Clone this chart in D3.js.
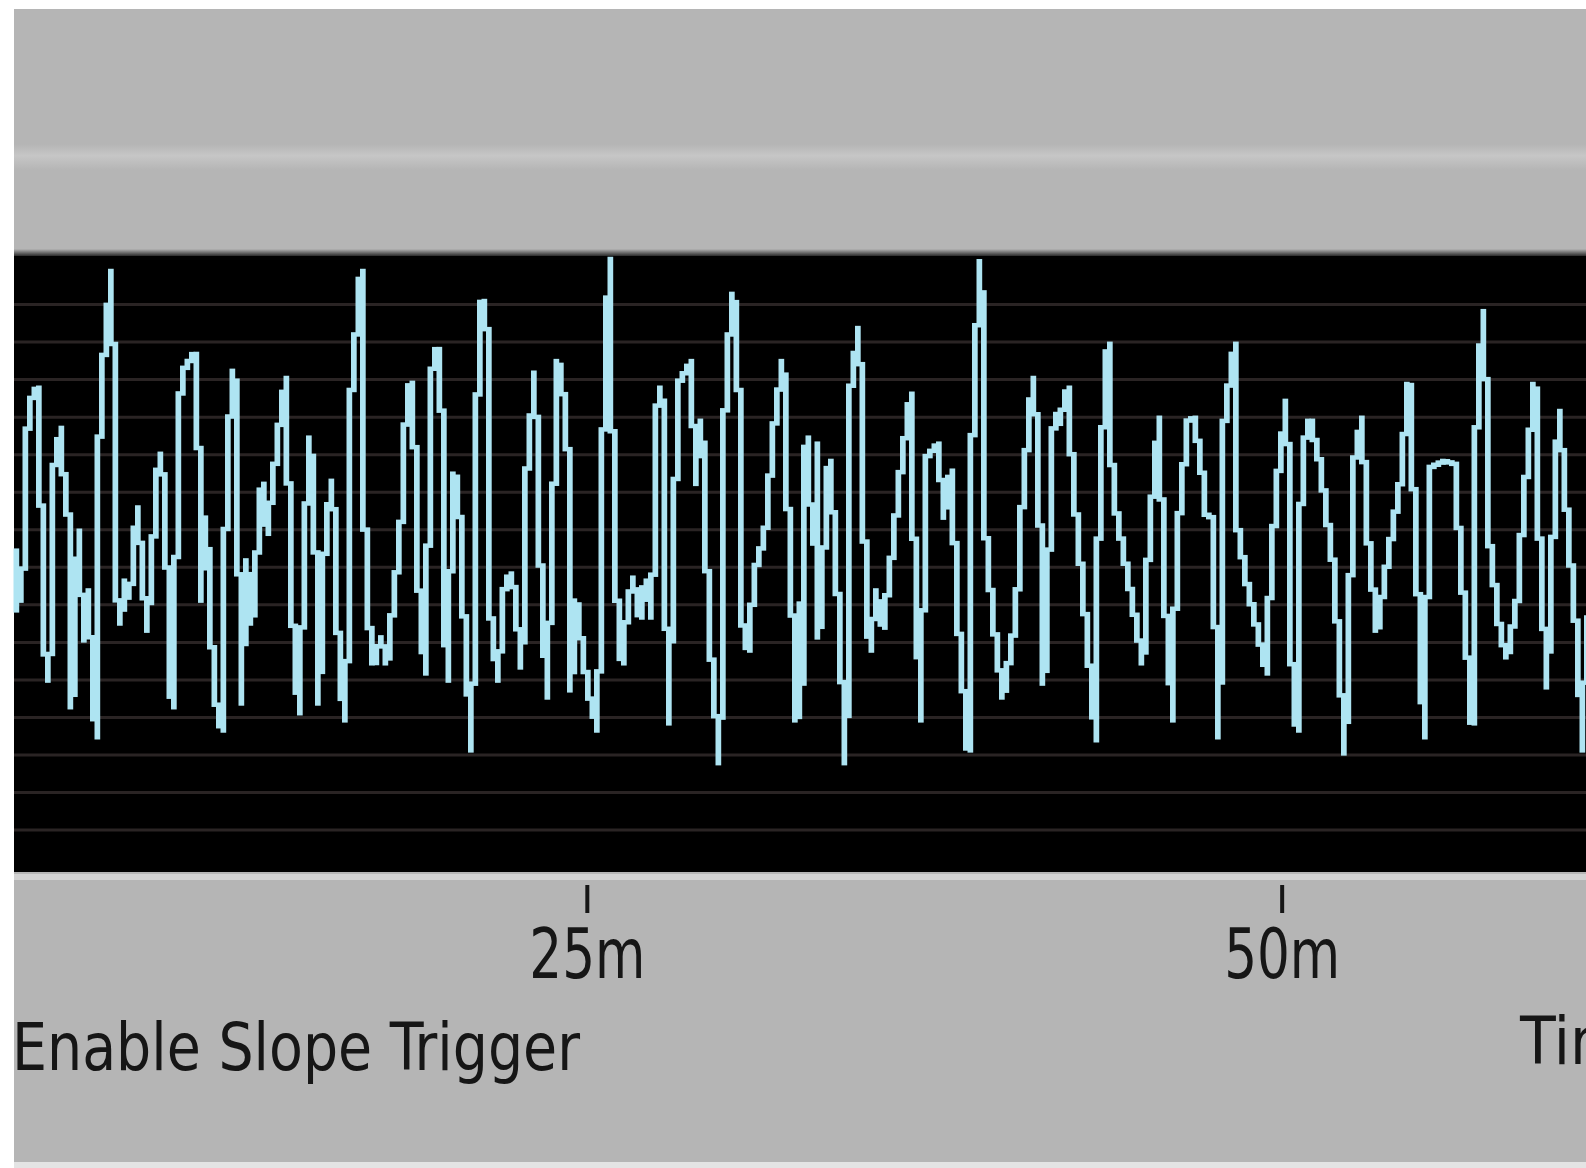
<!DOCTYPE html>
<html>
<head>
<meta charset="utf-8">
<script src="https://cdn.jsdelivr.net/npm/d3@7"></script>
<style>
  html, body { margin: 0; padding: 0; background: #fff; overflow: hidden; }
  svg { display: block; }
</style>
</head>
<body>
<div id="chart"></div>
<script>
'use strict';

// trace vertices, time in ms
const times = [
  4.39, 4.50, 4.61, 4.75, 4.79, 4.93, 5.22, 5.36, 5.47, 5.65, 5.76, 5.83, 6.08, 6.19, 6.44, 6.48,
  6.69, 6.91, 7.05, 7.34, 7.48, 7.74, 7.92, 8.06, 8.24, 8.35, 8.56, 8.82, 9.18, 9.61, 9.79, 10.07,
  10.40, 10.87, 11.05, 11.12, 11.30, 11.59, 11.87, 12.05, 12.31, 12.41, 12.56, 12.77, 12.95, 13.31,
  13.49, 14.00, 14.18, 14.36, 14.64, 15.00, 15.18, 15.36, 15.54, 15.80, 15.98, 16.08, 16.34, 16.51,
  16.88, 16.98, 17.16, 17.34, 17.59, 17.81, 18.17, 18.35, 18.53, 18.75, 18.89, 19.18, 19.43, 19.61,
  19.79, 19.83, 20.00, 20.18, 20.36, 20.62, 20.87, 21.05, 21.23, 21.44, 21.52, 21.80, 22.06, 22.31,
  22.67, 22.78, 23.14, 23.24, 23.57, 23.78, 23.96, 24.29, 24.43, 24.61, 25.04, 25.40, 25.55, 25.65,
  25.83, 25.94, 26.12, 26.27, 26.45, 26.66, 26.91, 27.09, 27.34, 27.56, 27.74, 27.92, 28.06, 28.28,
  28.78, 28.89, 29.14, 29.25, 29.50, 29.79, 29.86, 29.97, 30.22, 30.44, 30.51, 30.80, 31.05, 31.41,
  31.77, 32.06, 32.24, 32.56, 32.63, 32.78, 32.89, 33.14, 33.32, 33.35, 33.71, 33.89, 34.33, 34.43,
  34.79, 34.94, 35.04, 35.22, 35.40, 35.66, 36.05, 36.23, 36.66, 36.77, 37.02, 37.20, 37.64, 37.85,
  38.10, 38.39, 38.72, 38.90, 39.18, 39.36, 39.61, 39.97, 40.44, 40.69, 41.05, 41.16, 41.34, 41.45,
  41.81, 41.99, 42.31, 42.49, 42.85, 43.32, 43.43, 43.75, 43.93, 44.51, 45.01, 45.23, 45.59, 45.77,
  46.09, 46.20, 46.63, 46.85, 47.13, 47.21, 47.49, 47.75, 47.93, 48.14, 48.32, 48.39, 48.75, 49.47,
  49.58, 49.83, 50.19, 50.30, 50.55, 50.73, 51.02, 51.38, 51.88, 52.28, 52.60, 52.89, 53.07, 53.43,
  53.79, 54.26, 54.58, 54.87, 55.12, 55.33, 55.84, 56.20, 56.42, 56.85, 57.03, 57.28, 57.46, 57.86,
  58.11, 58.47, 58.72, 59.11, 59.29, 59.55, 59.80, 59.98, 60.27, 60.63, 60.84, 60.95
];

// trace vertices, in divisions
const volts = [
  -1.16, 0.43, -0.90, 0.25, 2.64, 4.34, 4.77, 1.68, -2.04, -3.03, -0.82, 2.64, 3.70, 2.21, 0.78, -3.74,
  0.96, -1.96, -0.63, -4.54, 4.34, 6.63, 7.88, -0.63, -1.51, -0.37, -0.82, 1.58, -1.70, 3.01, 2.21, -3.74,
  5.14, 5.67, 2.82, -0.90, 1.31, -3.37, -4.36, 3.09, 5.22, 3.28, -3.64, 0.17, -1.51, 2.21,
  0.88, 4.15, 5.03, -0.82, -3.90, 3.44, 2.29, -3.64, 0.17, 2.29, 0.70, -2.95, -4.09, 4.50,
  7.88, 1.68, -1.51, -2.57, -1.88, -2.57, -0.02, 1.50, 4.77, 4.90, 0.09, -2.84, 5.22, 5.80,
  3.97, -0.63, -3.03, 2.48, 2.29, -1.96, -4.89, 4.34, 7.08, 6.10, -1.16, -3.03, -0.37, -0.18,
  -2.68, 2.03, 5.17, 1.42, -3.48, 1.31, 5.48, 3.89, -3.29, -0.90, -3.29, -4.36, 1.84, 5.48,
  8.20, 2.82, -1.78, -2.57, -1.16, -0.29, -1.35, -0.37, -1.35, 4.77, 4.34, -4.17, -1.35, 4.87,
  5.48, 2.21, 3.89, 0.96, -2.68, -5.23, -0.90, 4.15, 7.27, 6.63, -1.16, -2.23, -0.10, 0.88,
  3.97, 5.48, 1.50, -4.09, -0.98, -3.11, 3.44, 0.62, 3.28, -1.88, 2.82, 1.15, -5.23, 4.42,
  6.36, 2.64, -1.24, -2.23, -0.63, -1.62, 0.78, 2.21, 4.61, 0.78, -4.09, 2.90, 3.28, 1.31,
  2.56, -1.78, -4.89, 4.77, 8.14, 0.78, -1.35, -3.48, -1.35, 2.03, 5.03, 3.89, 0.43, -3.11,
  4.07, 3.81, 4.77, 2.29, -0.63, -4.62, 1.95, 5.94, 1.95, -0.45, -2.57, 0.78, 3.97, -0.55,
  -4.09, 0.43, 3.89, 3.97, 2.56, 1.42, 1.31, -4.54, 3.81, 5.03, 5.94, 1.15, -0.45, -2.84,
  -0.45, 2.21, 4.42, -1.88, -4.36, 3.09, 3.89, 2.75, -0.10, -4.97, 2.75, 3.97, 1.04, -1.70,
  0.09, 2.21, 4.87, -0.10, -4.54, 2.64, 2.82, 2.75, 0.43, -4.17, 4.69, 6.81, 0.78, -1.78,
  -2.41, -0.90, 1.84, 4.87, 0.43, -3.21, 1.50, 4.15, 1.31, -1.96, -4.89, -1.35
];

const timeTicks = [25, 50];
const gridValues = [-7, -6, -5, -4, -3, -2, -1, 0, 1, 2, 3, 4, 5, 6, 7];
const timeDomain = [4.39, 60.95];
const voltDomain = [-8.13, 8.28];
const leftLabel = 'Enable Slope Trigger';
const rightLabel = 'Time';

const W = 1586, H = 1168;
const plot = {left: 14, right: 1586, top: 256, bottom: 872};
const dot = 4.5; // size of one screen pixel of the old scope window

const svg = d3.select('#chart')
  .append('svg')
    .attr('width', W)
    .attr('height', H);

const defs = svg.append('defs');

const stripe = defs.append('linearGradient')
    .attr('id', 'stripe')
    .attr('x1', 0).attr('y1', 0).attr('x2', 0).attr('y2', 1);
stripe.append('stop').attr('offset', '0%').attr('stop-color', '#b5b5b5');
stripe.append('stop').attr('offset', '45%').attr('stop-color', '#c6c6c6');
stripe.append('stop').attr('offset', '100%').attr('stop-color', '#b5b5b5');

const edge = defs.append('linearGradient')
    .attr('id', 'edge')
    .attr('x1', 0).attr('y1', 0).attr('x2', 0).attr('y2', 1);
edge.append('stop').attr('offset', '0%').attr('stop-color', '#b4b4b4');
edge.append('stop').attr('offset', '100%').attr('stop-color', '#2a2a2a');

// window panel
svg.append('rect')
    .attr('x', 14).attr('y', 9)
    .attr('width', W - 14).attr('height', 1153)
    .attr('fill', '#b5b5b5');

svg.append('rect')
    .attr('x', 14).attr('y', 144)
    .attr('width', W - 14).attr('height', 26)
    .attr('fill', 'url(#stripe)');

svg.append('rect')
    .attr('x', 14).attr('y', 1162)
    .attr('width', W - 14).attr('height', 6)
    .attr('fill', '#e4e4e4');

const x = d3.scaleLinear().domain(timeDomain).range([plot.left, plot.right]);
const y = d3.scaleLinear().domain(voltDomain).range([plot.bottom, plot.top]);

// scope screen
svg.append('rect')
    .attr('x', plot.left).attr('y', plot.top - 7)
    .attr('width', plot.right - plot.left).attr('height', 7)
    .attr('fill', 'url(#edge)');

svg.append('rect')
    .attr('x', plot.left).attr('y', plot.top)
    .attr('width', plot.right - plot.left).attr('height', plot.bottom - plot.top)
    .attr('fill', '#000');

svg.append('rect')
    .attr('x', plot.left).attr('y', plot.bottom + 2)
    .attr('width', plot.right - plot.left).attr('height', 6)
    .attr('fill', '#d2d2d2');

const grid = svg.append('g')
    .attr('class', 'grid')
    .attr('transform', `translate(${plot.left}, 0)`)
    .call(d3.axisLeft(y).tickValues(gridValues).tickSize(-(plot.right - plot.left)).tickFormat(''));

grid.select('.domain').remove();
grid.selectAll('.tick line')
    .attr('stroke', '#2a2424')
    .attr('stroke-width', 3);

// the trace is drawn the way the scope's screen shows it:
// each screen column gets one bar spanning the trace inside that column
const pts = times.map((t, i) => [x(t), y(volts[i])]);
const cols = [];
for (let c0 = plot.left; c0 < plot.right; c0 += dot) {
  const c1 = c0 + dot;
  let lo = Infinity, hi = -Infinity;
  for (let i = 0; i < pts.length - 1; i++) {
    const [ax, ay] = pts[i], [bx, by] = pts[i + 1];
    if (bx < c0 || ax > c1) continue;
    const s = Math.max(ax, c0), e = Math.min(bx, c1);
    const f = d3.interpolateNumber(ay, by);
    const ys = [f((s - ax) / (bx - ax)), f((e - ax) / (bx - ax))];
    lo = Math.min(lo, ...ys);
    hi = Math.max(hi, ...ys);
  }
  if (lo < Infinity) cols.push({x: c0, lo: lo, hi: hi});
}

svg.append('g')
    .attr('class', 'trace')
  .selectAll('rect')
  .data(cols)
  .join('rect')
    .attr('x', d => d.x - 0.5)
    .attr('y', d => d.lo - dot / 2)
    .attr('width', dot + 1.2)
    .attr('height', d => d.hi - d.lo + dot)
    .attr('fill', '#aee4f2');

// time axis
const xAxis = svg.append('g')
    .attr('class', 'x-axis')
    .attr('transform', `translate(0, ${plot.bottom + 13})`)
    .call(d3.axisBottom(x).tickValues(timeTicks).tickFormat(d => d + 'm').tickSize(28));

xAxis.select('.domain').remove();
xAxis.selectAll('.tick line')
    .attr('stroke', '#161616')
    .attr('stroke-width', 4);
xAxis.selectAll('.tick text')
    .attr('y', 93)
    .attr('dy', null)
    .attr('fill', '#161616')
    .attr('textLength', 116)
    .attr('lengthAdjust', 'spacingAndGlyphs')
    .style('font-family', '"Liberation Sans Narrow", "DejaVu Sans Condensed", sans-serif')
    .style('font-size', '70px');

svg.append('text')
    .attr('x', 12)
    .attr('y', 1070)
    .attr('fill', '#161616')
    .attr('textLength', 568)
    .attr('lengthAdjust', 'spacingAndGlyphs')
    .style('font-family', '"Liberation Sans Narrow", "DejaVu Sans Condensed", sans-serif')
    .style('font-size', '65px')
    .text(leftLabel);

// cut by the window edge, as in the screenshot
svg.append('text')
    .attr('x', 1520)
    .attr('y', 1064)
    .attr('fill', '#161616')
    .style('font-family', '"Liberation Sans Narrow", "DejaVu Sans Condensed", sans-serif')
    .style('font-size', '65px')
    .text(rightLabel);
</script>
</body>
</html>
